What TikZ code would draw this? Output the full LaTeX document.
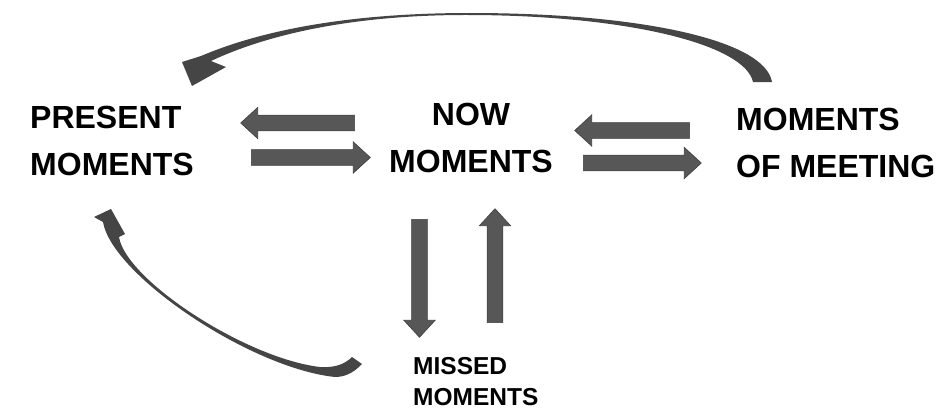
\documentclass[tikz,border=0pt]{standalone}
\usepackage{fontspec}
\setmainfont{Liberation Sans}
\usetikzlibrary{shapes.arrows}
\definecolor{arrowgray}{HTML}{575757}
\definecolor{arrowedge}{HTML}{3E3E3E}
\definecolor{curvegray}{HTML}{454545}
\begin{document}
\begin{tikzpicture}[x=1pt,y=-1pt,
  biglabel/.style={font=\bfseries\fontsize{32}{47}\selectfont, inner sep=0pt, align=left},
  smalllabel/.style={font=\bfseries\fontsize{24.5}{31}\selectfont, inner sep=0pt, align=left},
  blockarrow/.style={single arrow, fill=arrowgray, draw=arrowedge, line width=0.6pt,
    inner xsep=0pt, inner ysep=7.6pt, minimum width=0pt,
    single arrow head extend=7.7pt, single arrow tip angle=85},
  sweep/.style={fill=curvegray}
]
\useasboundingbox (0,0) rectangle (950,413);

% labels
\node[biglabel, anchor=north west] (present) at (30,106) {PRESENT\\MOMENTS};
\node[biglabel, anchor=north, align=center] (now) at (471,103) {NOW\\MOMENTS};
\node[biglabel, anchor=north west] (meeting) at (736,108) {MOMENTS\\OF MEETING};
\node[smalllabel, anchor=north west] (missed) at (413,357) {MISSED\\MOMENTS};

% block arrows
\node[blockarrow, rotate=180, minimum height=114pt] (a1) at (302,123) {};
\node[blockarrow, minimum height=119pt] (a2) at (306.5,157.5) {};
\node[blockarrow, rotate=180, minimum height=115pt] (a3) at (636.5,130.5) {};
\node[blockarrow, minimum height=118pt] (a4) at (638,163) {};
\node[blockarrow, rotate=-90, minimum height=118pt] (a5) at (419.5,274) {};
\node[blockarrow, rotate=90, minimum height=114pt] (a6) at (495,270) {};

% top sweeping arrow (moments of meeting -> present moments)
\coordinate (tstartA) at (772,82);
\coordinate (tstartB) at (753,82);
\coordinate (ttip) at (192,86);
\fill[sweep] (tstartA) .. controls (765,40) and (640,13) .. (470,13)
  .. controls (350,13) and (262,30) .. (201,56)
  -- (182,62) -- (ttip) -- (226,67) -- (211,61)
  .. controls (266,35) and (352,14.5) .. (470,15)
  .. controls (630,15.5) and (745,45) .. (tstartB) -- cycle;

% lower sweeping arrow (missed moments -> present moments)
\coordinate (btip) at (111,209);
\coordinate (bend) at (362,364);
\fill[sweep] (btip) -- (94,217) -- (103,222)
  .. controls (112,275) and (250,368) .. (335,377)
  .. controls (348,377) and (356,370) .. (bend) -- (352,357)
  .. controls (345,364) and (335,368) .. (320,367)
  .. controls (245,358) and (126,280) .. (119,237)
  -- (125,234) -- cycle;
\end{tikzpicture}
\end{document}
